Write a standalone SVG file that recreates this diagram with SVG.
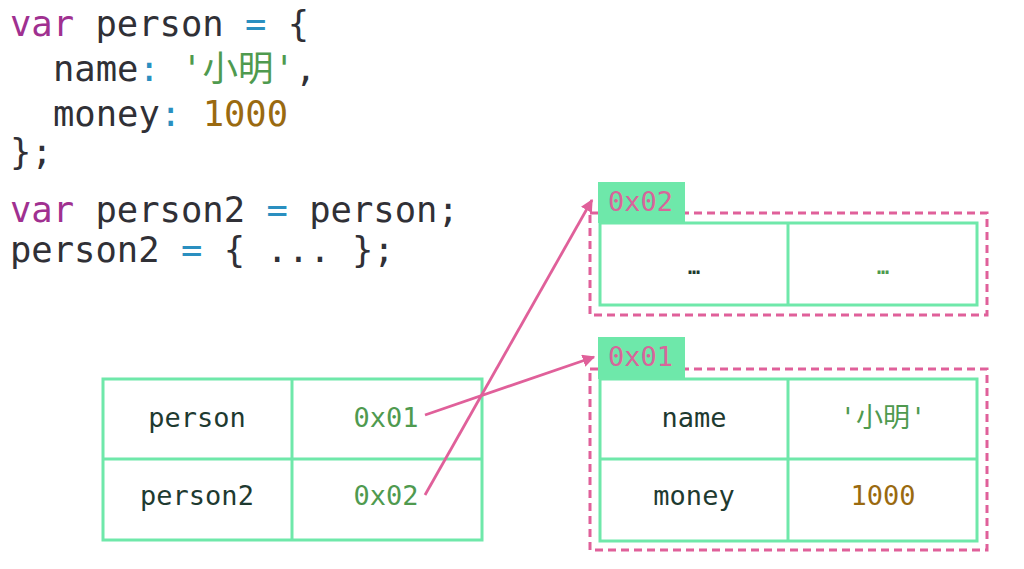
<svg xmlns="http://www.w3.org/2000/svg" width="1024" height="569" viewBox="0 0 1024 569">
<style>
.code{font-family:"DejaVu Sans Mono","Noto Sans CJK SC",monospace;font-size:35.5px;fill:#303036;white-space:pre}
.cell{fill:none;stroke:#6fe8aa;stroke-width:3}
.t{font-family:"DejaVu Sans Mono","Noto Sans CJK SC",monospace;font-size:27px;fill:#1e3a30;text-anchor:middle}
.kw{fill:#a03090}.op{fill:#2a8fc0}.str{fill:#4f9a4f}.num{fill:#9a6a10}
.addr{fill:#4f9a4f}
.lbl{fill:#6ee8aa}
.lt{font-family:"DejaVu Sans Mono",monospace;font-size:27px;fill:#d8659a}
.dash{fill:none;stroke:#e0609a;stroke-width:3;stroke-dasharray:8 5}
.conn{fill:none;stroke:#e0609a;stroke-width:2.8}
.dots{font-size:20px;font-weight:bold}
</style>
<defs>
<marker id="ah" viewBox="0 0 10 10" refX="9" refY="5" markerWidth="4.5" markerHeight="4.5" orient="auto">
<path d="M0,0 L10,5 L0,10 z" fill="#e0609a"/>
</marker>
</defs>
<rect width="1024" height="569" fill="#ffffff"/>
<g id="code" class="code">
<text x="10" y="36"><tspan class="kw">var</tspan> person <tspan class="op">=</tspan> {</text>
<text x="53" y="81">name<tspan class="op">:</tspan> <tspan class="str">'小明'</tspan>,</text>
<text x="53" y="126">money<tspan class="op">:</tspan> <tspan class="num">1000</tspan></text>
<text x="10" y="164">};</text>
<text x="10" y="222"><tspan class="kw">var</tspan> person2 <tspan class="op">=</tspan> person;</text>
<text x="10" y="262">person2 <tspan class="op">=</tspan> { ... };</text>
</g>
<g id="stack">
<rect class="cell" x="103" y="379" width="379" height="161"/>
<line class="cell" x1="292" y1="379" x2="292" y2="540"/>
<line class="cell" x1="103" y1="459" x2="482" y2="459"/>
<text class="t" x="197" y="427">person</text>
<text class="t addr" x="386" y="427">0x01</text>
<text class="t" x="197" y="505">person2</text>
<text class="t addr" x="386" y="505">0x02</text>
</g>
<g id="obj02">
<rect class="dash" x="590" y="213" width="397" height="102"/>
<rect class="lbl" x="598" y="182" width="87" height="41"/>
<text class="lt" x="608" y="211">0x02</text>
<rect class="cell" x="600" y="223" width="377" height="82" fill="#ffffff"/>
<line class="cell" x1="788" y1="223" x2="788" y2="305"/>
<text class="t dots" x="694" y="274">…</text>
<text class="t addr dots" x="883" y="274">…</text>
</g>
<g id="obj01">
<rect class="dash" x="590" y="369" width="397" height="181"/>
<rect class="lbl" x="598" y="337" width="87" height="42"/>
<text class="lt" x="608" y="366">0x01</text>
<rect class="cell" x="600" y="379" width="377" height="162"/>
<line class="cell" x1="788" y1="379" x2="788" y2="541"/>
<line class="cell" x1="600" y1="459" x2="977" y2="459"/>
<text class="t" x="694" y="427">name</text>
<text class="t addr" x="883" y="427">'小明'</text>
<text class="t" x="694" y="505">money</text>
<text class="t num" x="883" y="505">1000</text>
</g>
<g id="connectors">
<line class="conn" x1="425" y1="415" x2="594" y2="357" marker-end="url(#ah)"/>
<line class="conn" x1="425" y1="495" x2="592" y2="200" marker-end="url(#ah)"/>
</g>
</svg>
